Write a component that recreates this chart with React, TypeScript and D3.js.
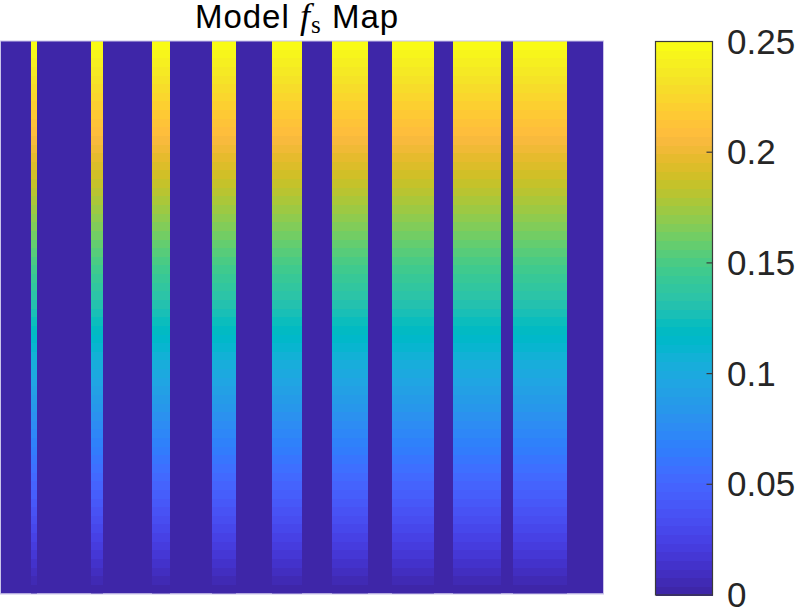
import React, { useEffect, useRef } from 'react';
import * as d3 from 'd3';

// grid: 100 columns, stripes of nonzero f_s (start column, width in columns)
const nCols = 100;
const stripeStart = [5, 15, 25, 35, 45, 55, 65, 75, 85];
const stripeWidth = [1, 2, 3, 4, 5, 6, 7, 8, 9];

// f_s down a stripe, top row first
const fsProfile = [
  0.248, 0.244, 0.240, 0.236, 0.232, 0.229, 0.225, 0.221, 0.217, 0.213, 0.209, 0.205, 0.201, 0.197, 0.193, 0.189,
  0.186, 0.182, 0.178, 0.174, 0.170, 0.166, 0.162, 0.158, 0.154, 0.150, 0.146, 0.143, 0.139, 0.135, 0.131, 0.127,
  0.123, 0.119, 0.115, 0.111, 0.107, 0.104, 0.100, 0.096, 0.092, 0.088, 0.084, 0.080, 0.076, 0.072, 0.068, 0.064,
  0.061, 0.057, 0.053, 0.049, 0.045, 0.041, 0.037, 0.033, 0.029, 0.025, 0.021, 0.018, 0.014, 0.010, 0.006, 0.002,
];

const cbTicks = [0, 0.05, 0.1, 0.15, 0.2, 0.25];
const cbTickLabels = ['0', '0.05', '0.1', '0.15', '0.2', '0.25'];

// parula(64)
const parula: number[][] = [
  [0.2422, 0.1504, 0.6603], [0.2504, 0.1650, 0.7076], [0.2578, 0.1818, 0.7511], [0.2647, 0.1978, 0.7952],
  [0.2706, 0.2147, 0.8364], [0.2751, 0.2342, 0.8710], [0.2783, 0.2559, 0.8991], [0.2803, 0.2782, 0.9221],
  [0.2813, 0.3006, 0.9414], [0.2810, 0.3228, 0.9579], [0.2795, 0.3447, 0.9717], [0.2760, 0.3667, 0.9829],
  [0.2699, 0.3892, 0.9906], [0.2602, 0.4123, 0.9952], [0.2440, 0.4358, 0.9988], [0.2206, 0.4603, 0.9973],
  [0.1963, 0.4847, 0.9892], [0.1834, 0.5074, 0.9798], [0.1786, 0.5289, 0.9682], [0.1764, 0.5499, 0.9520],
  [0.1687, 0.5703, 0.9359], [0.1540, 0.5902, 0.9218], [0.1460, 0.6091, 0.9079], [0.1380, 0.6276, 0.8973],
  [0.1248, 0.6459, 0.8883], [0.1113, 0.6635, 0.8763], [0.0952, 0.6798, 0.8598], [0.0689, 0.6948, 0.8394],
  [0.0297, 0.7082, 0.8163], [0.0036, 0.7203, 0.7917], [0.0067, 0.7312, 0.7660], [0.0433, 0.7411, 0.7394],
  [0.0964, 0.7500, 0.7120], [0.1408, 0.7584, 0.6842], [0.1717, 0.7670, 0.6554], [0.1938, 0.7758, 0.6251],
  [0.2161, 0.7843, 0.5923], [0.2470, 0.7918, 0.5567], [0.2906, 0.7973, 0.5188], [0.3406, 0.8008, 0.4789],
  [0.3909, 0.8029, 0.4354], [0.4456, 0.8024, 0.3909], [0.5044, 0.7993, 0.3480], [0.5616, 0.7942, 0.3045],
  [0.6174, 0.7876, 0.2612], [0.6720, 0.7793, 0.2227], [0.7242, 0.7698, 0.1910], [0.7738, 0.7598, 0.1646],
  [0.8203, 0.7498, 0.1535], [0.8634, 0.7406, 0.1596], [0.9035, 0.7330, 0.1774], [0.9393, 0.7288, 0.2100],
  [0.9728, 0.7298, 0.2394], [0.9956, 0.7434, 0.2371], [0.9970, 0.7659, 0.2199], [0.9952, 0.7893, 0.2028],
  [0.9892, 0.8136, 0.1885], [0.9786, 0.8386, 0.1766], [0.9676, 0.8639, 0.1643], [0.9610, 0.8890, 0.1537],
  [0.9597, 0.9135, 0.1423], [0.9628, 0.9373, 0.1265], [0.9691, 0.9606, 0.1064], [0.9769, 0.9839, 0.0805],
];
const parulaHex = parula.map(c => d3.rgb(c[0] * 255, c[1] * 255, c[2] * 255).formatHex());

const W = 800;
const H = 610;

const App = () => {
  const svgRef = useRef<SVGSVGElement>(null);

  useEffect(() => {
    if (!svgRef.current) return;
    const svg = d3.select(svgRef.current);
    svg.selectAll('*').remove();

    const plot = { left: 1, right: 603, top: 41, bottom: 593.5 };
    const cb = { left: 655.5, right: 712.5, top: 41.5, bottom: 595 };

    const color = d3.scaleQuantize<string>().domain([0, 0.25]).range(parulaHex);
    const x = d3.scaleBand<number>().domain(d3.range(nCols)).range([plot.left, plot.right]);
    const y = d3.scaleBand<number>().domain(d3.range(fsProfile.length)).range([plot.top, plot.bottom]);

    // zero background
    svg.append('rect')
      .attr('x', plot.left).attr('y', plot.top)
      .attr('width', plot.right - plot.left).attr('height', plot.bottom - plot.top)
      .attr('fill', color(0));

    const cells: { c0: number; c1: number; r: number; v: number }[] = [];
    stripeStart.forEach((s, i) => {
      fsProfile.forEach((v, r) => cells.push({ c0: s, c1: s + stripeWidth[i] - 1, r, v }));
    });

    svg.append('g').attr('shape-rendering', 'crispEdges')
      .selectAll('rect').data(cells).join('rect')
      .attr('x', d => x(d.c0)!)
      .attr('y', d => y(d.r)!)
      .attr('width', d => x(d.c1)! + x.bandwidth() - x(d.c0)!)
      .attr('height', y.bandwidth() + 0.5)
      .attr('fill', d => color(d.v));

    // faint axes box edge
    svg.append('rect')
      .attr('x', plot.left - 0.5).attr('y', plot.top)
      .attr('width', plot.right - plot.left + 1).attr('height', plot.bottom - plot.top + 0.5)
      .attr('fill', 'none').attr('stroke', '#c9c3ea').attr('stroke-width', 1);

    // colorbar
    const cy = d3.scaleLinear().domain([0, 0.25]).range([cb.bottom, cb.top]);
    const step = 0.25 / parulaHex.length;
    svg.append('g').attr('shape-rendering', 'crispEdges')
      .selectAll('rect').data(parulaHex).join('rect')
      .attr('x', cb.left)
      .attr('y', (d, i) => cy((i + 1) * step))
      .attr('width', cb.right - cb.left)
      .attr('height', (d, i) => cy(i * step) - cy((i + 1) * step) + 0.5)
      .attr('fill', d => d);
    svg.append('rect')
      .attr('x', cb.left).attr('y', cb.top)
      .attr('width', cb.right - cb.left).attr('height', cb.bottom - cb.top)
      .attr('fill', 'none').attr('stroke', '#3a3a3a').attr('stroke-width', 1.2);

    const tg = svg.append('g');
    tg.selectAll('line').data(cbTicks.slice(1, -1)).join('line')
      .attr('x1', cb.right - 6).attr('x2', cb.right)
      .attr('y1', d => cy(d)).attr('y2', d => cy(d))
      .attr('stroke', '#3a3a3a').attr('stroke-width', 1.2);
    tg.selectAll('text').data(cbTicks).join('text')
      .attr('x', 727)
      .attr('y', d => cy(d) + 12)
      .attr('font-family', '"Liberation Sans", Arial, sans-serif')
      .attr('font-size', 35)
      .attr('fill', '#262626')
      .text((d, i) => cbTickLabels[i]);

    // title
    const title = svg.append('text')
      .attr('x', 297).attr('y', 28)
      .attr('text-anchor', 'middle')
      .attr('font-family', '"Liberation Sans", Arial, sans-serif')
      .attr('font-size', 33)
      .attr('letter-spacing', 1)
      .attr('fill', '#000');
    title.append('tspan').text('Model ');
    title.append('tspan')
      .attr('font-family', '"Liberation Serif", "DejaVu Serif", serif')
      .attr('font-style', 'italic').attr('font-size', 36).text('f');
    title.append('tspan')
      .attr('font-family', '"Liberation Serif", "DejaVu Serif", serif')
      .attr('font-size', 25).attr('dy', 5).text('s');
    title.append('tspan').attr('dy', -5).text(' Map');
  }, []);

  return (
    <svg
      ref={svgRef}
      width={W}
      height={H}
      viewBox={`0 0 ${W} ${H}`}
      style={{ position: 'absolute', left: 0, top: 0, display: 'block', background: '#fff' }}
    />
  );
};

export default App;
